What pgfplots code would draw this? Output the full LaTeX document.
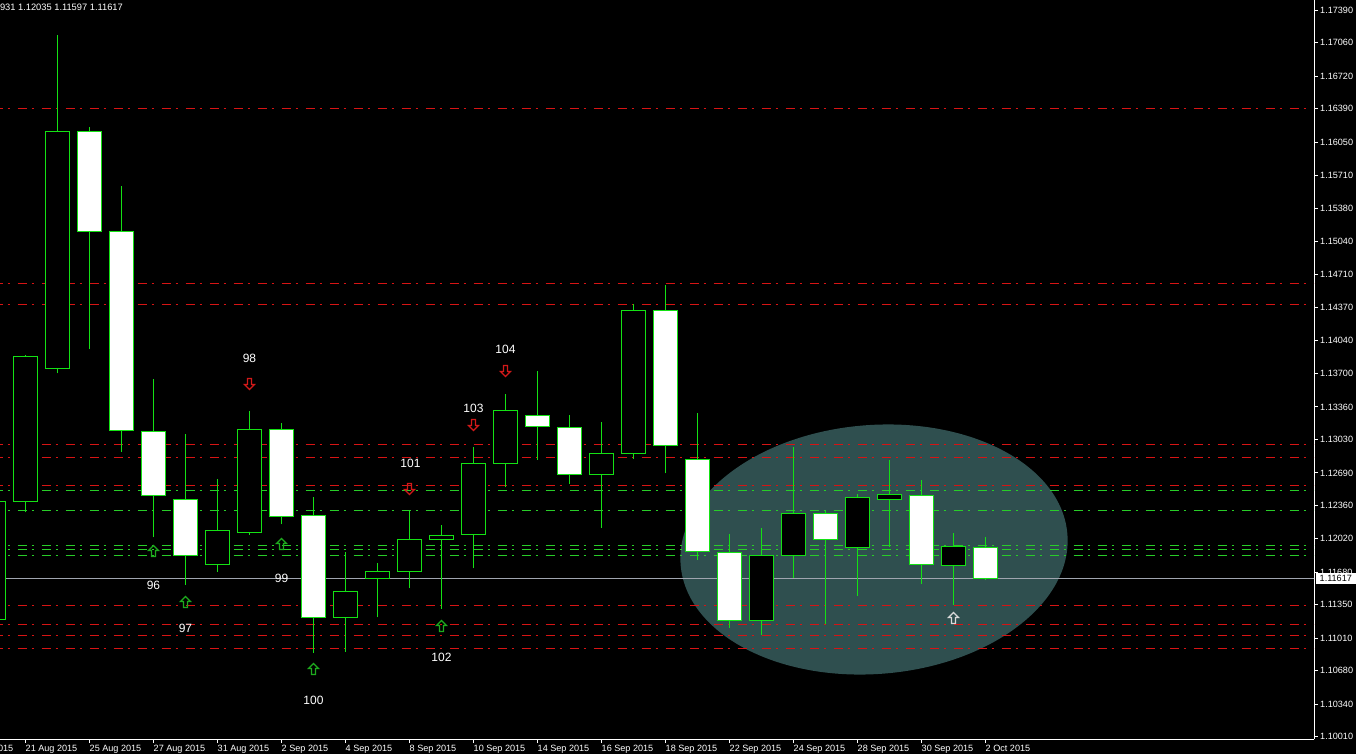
\documentclass[border=0pt]{standalone}
\usepackage{fontspec}
\setmainfont{Liberation Sans}
\usepackage{pgfplots}
\usepackage{pgfplotstable}
\pgfplotsset{compat=1.18}

\definecolor{cgreen}{RGB}{20,225,20}
\definecolor{lvlred}{RGB}{215,20,20}
\definecolor{lvlgreen}{RGB}{40,205,40}
\definecolor{slate}{RGB}{47,79,79}
\definecolor{bidgray}{RGB}{160,165,175}
\definecolor{arrgreen}{RGB}{30,170,30}
\definecolor{arrred}{RGB}{210,25,25}

% hollow block arrows like the MT4 ones
\pgfdeclareplotmark{hup}{%
  \pgfpathmoveto{\pgfpoint{0bp}{5.5bp}}%
  \pgfpathlineto{\pgfpoint{5bp}{0.5bp}}%
  \pgfpathlineto{\pgfpoint{2bp}{0.5bp}}%
  \pgfpathlineto{\pgfpoint{2bp}{-5.5bp}}%
  \pgfpathlineto{\pgfpoint{-2bp}{-5.5bp}}%
  \pgfpathlineto{\pgfpoint{-2bp}{0.5bp}}%
  \pgfpathlineto{\pgfpoint{-5bp}{0.5bp}}%
  \pgfpathclose
  \pgfusepathqstroke}
\pgfdeclareplotmark{hdown}{%
  \pgfpathmoveto{\pgfpoint{0bp}{-5.5bp}}%
  \pgfpathlineto{\pgfpoint{5bp}{-0.5bp}}%
  \pgfpathlineto{\pgfpoint{2bp}{-0.5bp}}%
  \pgfpathlineto{\pgfpoint{2bp}{5.5bp}}%
  \pgfpathlineto{\pgfpoint{-2bp}{5.5bp}}%
  \pgfpathlineto{\pgfpoint{-2bp}{-0.5bp}}%
  \pgfpathlineto{\pgfpoint{-5bp}{-0.5bp}}%
  \pgfpathclose
  \pgfusepathqstroke}

% EURUSD daily, k = bar index (0 = 21 Aug 2015)
\pgfplotstableread{
k  O       H       L       C
-1 1.11201 1.12445 1.11145 1.12399
0  1.12399 1.13883 1.12288 1.13873
1  1.13751 1.17134 1.13700 1.16159
2  1.16159 1.16209 1.13944 1.15143
3  1.15143 1.15600 1.12907 1.13121
4  1.13111 1.13639 1.12034 1.12460
5  1.12420 1.13090 1.11556 1.11851
6  1.11759 1.12623 1.11688 1.12105
7  1.12084 1.13314 1.12064 1.13131
8  1.13131 1.13192 1.12166 1.12247
9  1.12257 1.12440 1.10865 1.11221
10 1.11221 1.11891 1.10875 1.11485
11 1.11617 1.11770 1.11221 1.11688
12 1.11688 1.12308 1.11516 1.12013
13 1.12013 1.12156 1.11312 1.12054
14 1.12064 1.12948 1.11719 1.12786
15 1.12786 1.13487 1.12542 1.13324
16 1.13273 1.13730 1.12826 1.13161
17 1.13151 1.13283 1.12582 1.12674
18 1.12674 1.13202 1.12135 1.12887
19 1.12887 1.14401 1.12836 1.14340
20 1.14340 1.14594 1.12684 1.12968
21 1.12826 1.13294 1.11810 1.11891
22 1.11881 1.12074 1.11119 1.11190
23 1.11190 1.12135 1.11038 1.11851
24 1.11851 1.12958 1.11627 1.12278
25 1.12278 1.12308 1.11150 1.12013
26 1.11932 1.12471 1.11444 1.12440
27 1.12420 1.12816 1.11932 1.12471
28 1.12460 1.12613 1.11566 1.11759
29 1.11749 1.12084 1.11343 1.11942
30 1.11931 1.12035 1.11597 1.11617
}\candles

\pgfplotsset{
  lvlr/.style={lvlred, line width=1.2bp, dash pattern=on 9bp off 5bp on 2bp off 8bp},
  lvlg/.style={lvlgreen, line width=1.2bp, dash pattern=on 9bp off 5bp on 2bp off 8bp},
  wick/.style={draw=cgreen, line width=1.2bp, mark=none},
  body/.style={draw=cgreen, line width=1.2bp, mark=none},
}

\begin{document}
\begin{tikzpicture}
\useasboundingbox (0,-15bp) rectangle (1356bp,739bp);
\fill[black] (0,-15bp) rectangle (1356bp,739bp);
\begin{axis}[
  scale only axis, width=1314bp, height=739bp,
  xmin=-0.796875, xmax=40.265625,
  ymin=1.0998632, ymax=1.1749456,
  axis x line*=bottom, axis y line*=right,
  axis line style={white, line width=1bp},
  clip mode=individual,
  tick align=outside, major tick length=4bp,
  tick style={white, line width=1bp},
  scaled y ticks=false,
  xtick={0,2,...,30},
  xticklabels={21 Aug 2015, 25 Aug 2015, 27 Aug 2015, 31 Aug 2015, 2 Sep 2015,
    4 Sep 2015, 8 Sep 2015, 10 Sep 2015, 14 Sep 2015, 16 Sep 2015, 18 Sep 2015,
    22 Sep 2015, 24 Sep 2015, 28 Sep 2015, 30 Sep 2015, 2 Oct 2015},
  ytick={1.1739,1.1706,1.1672,1.1639,1.1605,1.1571,1.1538,1.1504,1.1471,1.1437,
    1.1404,1.1370,1.1336,1.1303,1.1269,1.1236,1.1202,1.1168,1.1135,1.1101,
    1.1068,1.1034,1.1001},
  yticklabels={1.17390,1.17060,1.16720,1.16390,1.16050,1.15710,1.15380,1.15040,
    1.14710,1.14370,1.14040,1.13700,1.13360,1.13030,1.12690,1.12360,1.12020,
    1.11680,1.11350,1.11010,1.10680,1.10340,1.10010},
  ticklabel style={font=\fontsize{9.1bp}{10bp}\selectfont, text=white, inner sep=0pt},
  xticklabel style={anchor=base west, xshift=0bp, yshift=-8bp},
  yticklabel style={anchor=west, xshift=2bp},
]
% highlighted zone
\fill[slate, rotate around={4.5:(axis cs:26.516,1.119116)}]
  (axis cs:26.516,1.119116) ellipse [x radius=194bp, y radius=124.5bp];

% support / resistance levels
\addplot[lvlr] coordinates {(-1,1.163922) (41,1.163922)};
\addplot[lvlr] coordinates {(-1,1.146142) (41,1.146142)};
\addplot[lvlr] coordinates {(-1,1.144008) (41,1.144008)};
\addplot[lvlr] coordinates {(-1,1.129784) (41,1.129784)};
\addplot[lvlr] coordinates {(-1,1.128464) (41,1.128464)};
\addplot[lvlr] coordinates {(-1,1.125619) (41,1.125619)};
\addplot[lvlg] coordinates {(-1,1.125111) (41,1.125111)};
\addplot[lvlg] coordinates {(-1,1.123079) (41,1.123079)};
\addplot[lvlg] coordinates {(-1,1.119523) (41,1.119523)};
\addplot[lvlg] coordinates {(-1,1.119116) (41,1.119116)};
\addplot[lvlg] coordinates {(-1,1.118507) (41,1.118507)};
\addplot[lvlr] coordinates {(-1,1.113427) (41,1.113427)};
\addplot[lvlr] coordinates {(-1,1.111496) (41,1.111496)};
\addplot[lvlr] coordinates {(-1,1.110379) (41,1.110379)};
\addplot[lvlr] coordinates {(-1,1.109058) (41,1.109058)};
% bid line
\addplot[bidgray, line width=1bp] coordinates {(-1,1.11617) (41,1.11617)};

% candles
\pgfplotsinvokeforeach{0,...,31}{
  \pgfplotstablegetelem{#1}{k}\of\candles \let\ck\pgfplotsretval
  \pgfplotstablegetelem{#1}{O}\of\candles \let\cO\pgfplotsretval
  \pgfplotstablegetelem{#1}{H}\of\candles \let\cH\pgfplotsretval
  \pgfplotstablegetelem{#1}{L}\of\candles \let\cL\pgfplotsretval
  \pgfplotstablegetelem{#1}{C}\of\candles \let\cC\pgfplotsretval
  \pgfmathsetmacro\xa{\ck-0.375}
  \pgfmathsetmacro\xb{\ck+0.375}
  \pgfmathtruncatemacro\isbear{\cC<\cO}
  \ifnum\isbear=1 \def\bcol{white}\else\def\bcol{black}\fi
  \edef\temp{%
    \noexpand\addplot[wick] coordinates {(\ck,\cL) (\ck,\cH)};
    \noexpand\addplot[body, fill=\bcol] coordinates {(\xa,\cO) (\xb,\cO) (\xb,\cC) (\xa,\cC)} -- cycle;
  }\temp
}

% signal arrows
\addplot[only marks, mark=hup, draw=arrgreen, line width=1.2bp] coordinates {
  (4,1.11896) (5,1.11378) (8,1.11968) (9,1.10698) (13,1.11134)};
\addplot[only marks, mark=hdown, draw=arrred, line width=1.2bp] coordinates {
  (7,1.13593) (12,1.12526) (14,1.13177) (15,1.13725)};
\addplot[only marks, mark=hup, draw=white!85!black, line width=1.2bp] coordinates {
  (29,1.11216)};

% signal numbers
\addplot[draw=none, mark=none, nodes near coords, point meta=explicit symbolic,
  nodes near coords style={anchor=center, text=white, inner sep=0pt,
    font=\fontsize{12bp}{13bp}\selectfont}] coordinates {
  (4,1.11551) [96]
  (5,1.11114) [97]
  (7,1.13857) [98]
  (8,1.11622) [99]
  (9,1.10383) [100]
  (12.03,1.12791) [101]
  (13,1.10819) [102]
  (14,1.13349) [103]
  (15,1.13949) [104]
};

\node[anchor=base west, inner sep=0pt, text=white, font=\fontsize{9.1bp}{10bp}\selectfont]
  at ([yshift=-12.3bp]axis cs:-2,1.0998632) {19 Aug 2015};
\coordinate (bid) at (axis cs:40.265625,1.11617);
\end{axis}
\node[anchor=west, fill=white, text=black, inner xsep=4bp, inner ysep=0pt,
  minimum height=11bp, minimum width=40bp, font=\fontsize{9.1bp}{10bp}\selectfont]
  at ([xshift=1.5bp]bid) {1.11617};
\node[anchor=base east, inner sep=0pt, text=white, font=\fontsize{9.3bp}{10bp}\selectfont]
  at (123bp,728.7bp) {EURUSD,Daily\ \ 1.11931 1.12035 1.11597 1.11617};
\end{tikzpicture}
\end{document}
